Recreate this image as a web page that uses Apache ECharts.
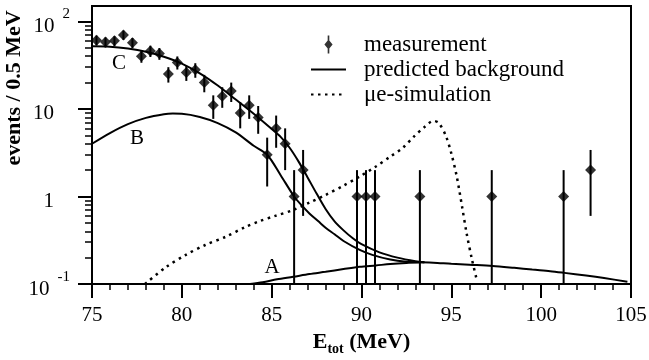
<!DOCTYPE html>
<html><head><meta charset="utf-8">
<script src="https://cdn.jsdelivr.net/npm/echarts@6/dist/echarts.min.js"></script>
<style>html,body{margin:0;padding:0;background:#fff}#c{width:649px;height:360px}</style>
</head><body><div id="c"></div>
<script>
// measurement (events per 0.5 MeV bin)
const xMeas = [75.25,75.75,76.25,76.75,77.25,77.75,78.25,78.75,79.25,79.75,80.25,80.75,81.25,81.75,82.25,82.75,83.25,83.75,84.25,84.75,85.25,85.75,86.25,86.75,89.75,90.25,90.75,93.25,97.25,101.25,102.75];
const yMeas = [61,58,60,70,57,40,46,43,25,34,26,28,20,11,14,16,9,11,8,3,6,4,1,2,1,1,1,1,1,1,2];
const yErr  = [7.8,7.6,7.7,8.4,7.5,6.3,6.8,6.6,5.0,5.8,5.1,5.3,4.5,3.3,3.7,4.0,3.0,3.3,2.8,1.7,2.4,2.0,1.0,1.4,1,1,1,1,1,1,1.4];
// predicted background curves
const cX = [75,76,77,78,79,80,81,82,83,84,85,85.5,86,86.5,87,87.5,88,88.5,89,89.5,90,91,92,93,93.5];
const cY = [52,51.5,49,45,39.5,33,25.5,18.5,12.8,8.8,5.9,4.8,3.6,2.5,1.65,1.08,0.72,0.52,0.41,0.335,0.285,0.23,0.2,0.182,0.177];
const bX = [75,76,77,78,79,79.5,80,81,82,83,84,84.75,85.5,86.25,86.7,87.1,87.6,88,88.5,89,89.9,90.6,91.6,92.5,93.5];
const bY = [4.0,5.3,6.7,7.9,8.7,8.85,8.8,8.1,6.9,5.4,3.8,3.0,1.75,1.0,0.78,0.64,0.52,0.44,0.37,0.31,0.245,0.215,0.19,0.18,0.177];
const aX = [83.8,84.5,85.3,86.2,87.1,88,89,89.9,90.8,91.6,92.5,93.3,94,95,96,97.3,98.5,99.5,100.5,101.3,102.5,103.5,104.8];
const aY = [0.1,0.105,0.113,0.121,0.13,0.138,0.148,0.157,0.163,0.169,0.174,0.177,0.175,0.17,0.166,0.161,0.153,0.146,0.14,0.134,0.125,0.117,0.106];
// mu-e simulation
const simX = [77.95,79.1,80.2,81.3,82.45,83.55,84.3,85.2,86.2,87.1,88,89,89.9,90.8,91.6,92.3,92.9,93.5,94,94.3,94.7,95,95.3,95.6,95.85,96.15,96.4];
const simY = [0.1,0.155,0.214,0.279,0.347,0.45,0.52,0.6,0.7,0.85,1.04,1.33,1.69,2.2,2.85,3.6,4.8,6.2,7.3,6.9,4.9,3.1,1.7,0.76,0.38,0.19,0.115];
// axis ticks
const yTickValues = [0.1, 1, 10, 100];
const yTickBase = ['10', '1', '10', '10'];
const yTickExp = ['-1', '', '', '2'];
const yMinorTicks = [0.2,0.3,0.4,0.5,0.6,0.7,0.8,0.9,2,3,4,5,6,7,8,9,20,30,40,50,60,70,80,90];

const FONT = '"Liberation Serif", "Times New Roman", serif';
const zip = (xs, ys) => xs.map((x, i) => [x, ys[i]]);
const chart = echarts.init(document.getElementById('c'), null, {renderer: 'canvas'});
const lineBase = {type: 'line', symbol: 'none', showSymbol: false, smooth: 0.3, silent: true, animation: false};
const noSymbol = {opacity: 0, color: 'rgba(0,0,0,0)', borderWidth: 0};

chart.setOption({
  animation: false,
  backgroundColor: '#fff',
  grid: {left: 92, right: 18, top: 6, bottom: 76, show: true, borderColor: '#000', borderWidth: 2, containLabel: false, outerBoundsMode: 'none'},
  legend: {
    left: 305, top: 28, orient: 'vertical', itemWidth: 35, itemHeight: 18, itemGap: 2,
    symbolKeepAspect: true, selectedMode: false,
    textStyle: {fontFamily: FONT, fontSize: 23, color: '#000', padding: [0, 0, 0, 13]},
    data: [
      {name: 'measurement', icon: 'path://M4,0 L6,0 L6,6 L10,11 L6,16 L6,22 L4,22 L4,16 L0,11 L4,6 Z'},
      {name: 'predicted background', itemStyle: noSymbol},
      {name: 'μe-simulation', itemStyle: noSymbol}
    ]
  },
  xAxis: {
    type: 'value', min: 75, max: 105, interval: 5,
    axisLine: {show: true, lineStyle: {color: '#000', width: 2}},
    axisTick: {show: true, length: 14, lineStyle: {color: '#000', width: 2}},
    minorTick: {show: true, splitNumber: 5, length: 6, lineStyle: {color: '#000', width: 1.5}},
    splitLine: {show: false}, minorSplitLine: {show: false},
    axisLabel: {fontFamily: FONT, fontSize: 21, color: '#000', margin: 21},
    name: '{e|E}{s|tot}{e| (MeV)}', nameLocation: 'middle', nameGap: 46,
    nameTextStyle: {rich: {
      e: {fontFamily: FONT, fontWeight: 'bold', fontSize: 22, lineHeight: 22, verticalAlign: 'top', color: '#000'},
      s: {fontFamily: FONT, fontWeight: 'bold', fontSize: 14, lineHeight: 14, padding: [11, 0, 0, 0], verticalAlign: 'top', color: '#000'}
    }}
  },
  yAxis: [{
    type: 'log', logBase: 10, min: 0.1, max: 150,
    axisLine: {show: true, lineStyle: {color: '#000', width: 2}},
    axisTick: {show: true, length: 14, customValues: yTickValues, lineStyle: {color: '#000', width: 2}},
    splitLine: {show: false},
    axisLabel: {
      customValues: yTickValues, margin: 22, padding: [0, 0, 8, 0],
      formatter: (v) => {
        const i = yTickValues.findIndex(t => Math.abs(t - v) / t < 1e-6);
        if (i < 0) return '';
        return yTickExp[i] ? `{b|${yTickBase[i]}}{sup|${yTickExp[i]}}` : `{bp|${yTickBase[i]}}`;
      },
      rich: {
        b: {fontFamily: FONT, fontSize: 21, color: '#000', lineHeight: 21, padding: [9, 8, 0, 0], verticalAlign: 'top'},
        bp: {fontFamily: FONT, fontSize: 21, color: '#000', lineHeight: 21, padding: [9, 16, 0, 0], verticalAlign: 'top'},
        sup: {fontFamily: FONT, fontSize: 15, color: '#000', lineHeight: 15, verticalAlign: 'top'}
      }
    }
  }, {
    type: 'log', logBase: 10, min: 0.1, max: 150, position: 'left',
    axisLine: {show: false},
    axisTick: {show: true, length: 7, customValues: yMinorTicks, lineStyle: {color: '#000', width: 1.5}},
    axisLabel: {show: false}, splitLine: {show: false}
  }],
  graphic: [
    {type: 'text', x: 14, y: 88, rotation: Math.PI / 2, style: {text: 'events / 0.5 MeV', font: 'bold 22px "Liberation Serif"', fill: '#000', align: 'center', verticalAlign: 'middle'}},
    {type: 'text', x: 119, y: 63, style: {text: 'C', font: '21px "Liberation Serif"', fill: '#000', align: 'center', verticalAlign: 'middle'}},
    {type: 'text', x: 137, y: 138, style: {text: 'B', font: '21px "Liberation Serif"', fill: '#000', align: 'center', verticalAlign: 'middle'}},
    {type: 'text', x: 272, y: 267, style: {text: 'A', font: '21px "Liberation Serif"', fill: '#000', align: 'center', verticalAlign: 'middle'}}
  ],
  series: [
    Object.assign({}, lineBase, {name: 'predicted background', data: zip(cX, cY), lineStyle: {color: '#000', width: 2}, itemStyle: {color: '#000'}, z: 2}),
    Object.assign({}, lineBase, {name: 'predicted background', data: zip(bX, bY), lineStyle: {color: '#000', width: 2}, itemStyle: {color: '#000'}, z: 2}),
    Object.assign({}, lineBase, {name: 'predicted background', data: zip(aX, aY), lineStyle: {color: '#000', width: 2}, itemStyle: {color: '#000'}, z: 2}),
    Object.assign({}, lineBase, {name: 'μe-simulation', data: zip(simX, simY), lineStyle: {color: '#000', width: 2.5, type: [2.5, 4.5]}, itemStyle: {color: '#000'}, z: 2}),
    {
      type: 'custom', name: 'measurement errors', coordinateSystem: 'cartesian2d', silent: true, z: 3,
      data: xMeas.map((x, i) => [x, yMeas[i] - yErr[i], yMeas[i] + yErr[i]]),
      encode: {x: 0, y: 2},
      renderItem: (params, api) => {
        const cs = params.coordSys;
        const x = api.value(0), lo = api.value(1), hi = api.value(2);
        const top = api.coord([x, hi]);
        const bottom = cs.y + cs.height;
        const y2 = lo > 0 ? Math.min(api.coord([x, lo])[1], bottom) : bottom;
        return {type: 'line', shape: {x1: top[0], y1: top[1], x2: top[0], y2: y2}, style: {stroke: '#000', lineWidth: 2}};
      }
    },
    {type: 'scatter', name: 'measurement', data: zip(xMeas, yMeas), symbol: 'diamond', symbolSize: 11, itemStyle: {color: '#000'}, z: 4, silent: true}
  ]
});
</script></body></html>
